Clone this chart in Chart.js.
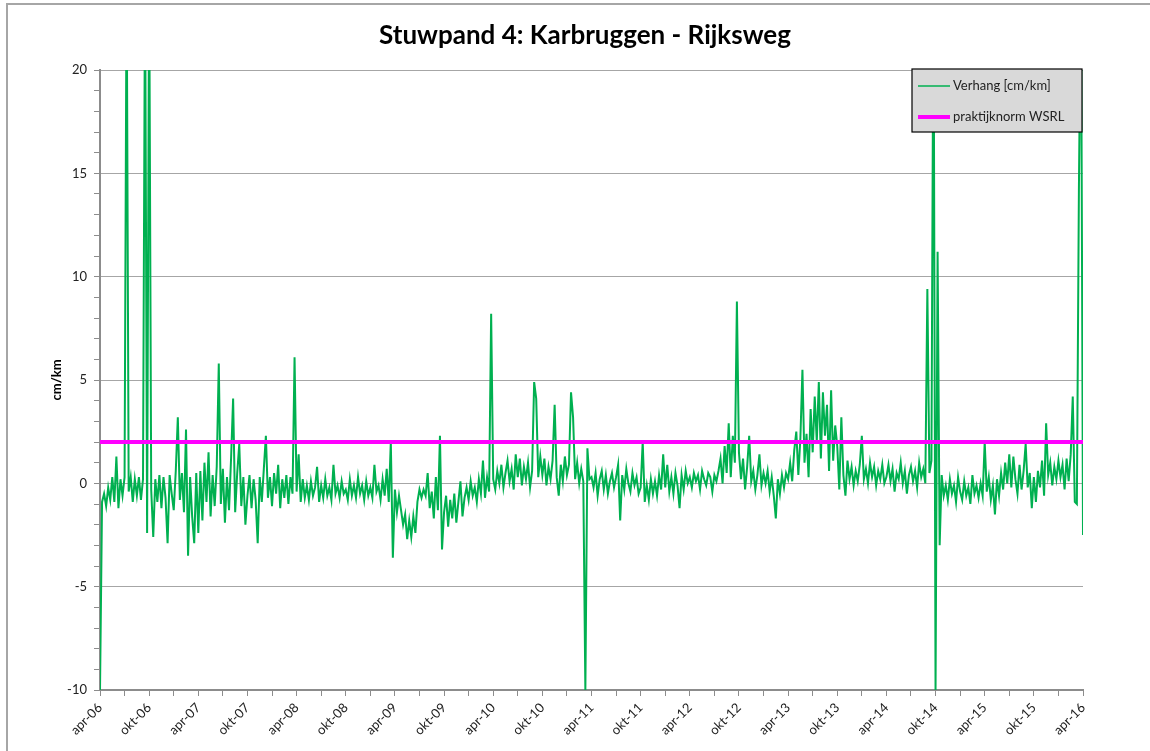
<!DOCTYPE html>
<html>
<head>
<meta charset="utf-8">
<title>Stuwpand 4: Karbruggen - Rijksweg</title>
<script src="https://cdn.jsdelivr.net/npm/chart.js@4.4.0/dist/chart.umd.min.js"></script>
<style>
  html, body { margin: 0; padding: 0; background: #fff; }
  canvas { display: block; }
</style>
</head>
<body>
<canvas id="verhang-chart" width="1150" height="751"></canvas>
<script>
const chartTitle = 'Stuwpand 4: Karbruggen - Rijksweg';
const yTitle = 'cm/km';
const seriesNames = ['Verhang [cm/km]', 'praktijknorm WSRL'];
const xLabels = ['apr-06', 'okt-06', 'apr-07', 'okt-07', 'apr-08', 'okt-08', 'apr-09',
  'okt-09', 'apr-10', 'okt-10', 'apr-11', 'okt-11', 'apr-12', 'okt-12', 'apr-13',
  'okt-13', 'apr-14', 'okt-14', 'apr-15', 'okt-15', 'apr-16'];
const normValue = 2;
const pointsPerMonth = 4;

// verhang readings, 4 per month, one array per half year
const verhangApr06 = [-10, -0.9, -0.5, -1.1, -0.2, -0.8, 0.3, -0.9, 1.3, -1.2, 0.2, -0.6, 0.3, 25, -0.4, 0.3, -0.9, 0.2, -0.6, 0.3, -0.8, 0.2, 25, -2.4];
const verhangOkt06 = [25, -0.3, -2.6, 0.2, -0.9, 0.4, -1.2, 0.3, -0.7, -2.9, 0.4, -0.5, -1.3, 0.6, 3.2, -0.8, 0.5, -1.4, 2.6, -3.5, 0.3, -1.6, -2.9, 0.5];
const verhangApr07 = [-2.4, 0.6, -1.8, 1.0, -0.9, 1.5, -1.6, 0.4, -1.1, 0.8, 5.8, -1.0, 0.7, -1.9, 0.3, -1.3, 1.2, 4.1, -1.4, 0.5, 1.9, -1.1, 0.3, -2.0];
const verhangOkt07 = [-0.6, 0.4, -1.2, 0.2, -0.8, -2.9, 0.3, -0.9, 0.7, 2.3, -0.7, 0.3, -1.1, 0.5, -0.5, 0.9, -1.2, 0.2, -0.7, 0.4, -1.0, 0.3, -0.5, 6.1];
const verhangApr08 = [-0.4, 1.4, -0.9, 0.2, -0.7, -0.1, -0.8, 0.1, -0.6, -0.2, 0.8, -0.9, -0.1, -0.7, 0.2, -0.6, -0.2, -0.8, 0.9, -0.5, -0.1, -0.7, 0.1, -0.5];
const verhangOkt08 = [-0.3, -0.8, 0.2, -0.6, -0.1, -0.7, 0.3, -0.5, -0.1, -0.8, 0.1, -0.6, -0.2, -0.7, 0.9, -0.4, -0.1, -0.8, 0.2, -0.6, 0.7, -0.9, 2.0, -3.6];
const verhangApr09 = [-0.3, -1.4, -0.6, -1.3, -2.0, -1.5, -2.7, -1.8, -2.6, -1.6, -2.4, -0.9, -0.3, -0.7, -0.3, -0.6, 0.5, -1.2, -0.4, -1.7, 0.3, -1.3, 2.3, -3.2];
const verhangOkt09 = [-1.4, -0.6, -2.1, -0.8, -1.7, -0.5, -1.9, -0.9, 0.1, -1.6, -0.7, -0.2, -0.8, 0.1, -0.6, -0.2, -0.9, 0.2, -0.5, 1.1, -0.7, 0.3, -0.4, 8.2];
const verhangApr10 = [0.2, -0.3, 0.6, 0.0, 0.9, -0.2, 0.5, 1.1, 0.1, 0.7, -0.3, 1.4, 0.3, 1.2, -0.1, 0.8, 0.2, 1.0, -0.2, 0.6, 4.9, 4.1, 0.3, 1.3];
const verhangOkt10 = [0.4, 1.2, -0.1, 0.8, 0.2, 1.1, 3.8, 0.3, -0.6, 0.9, 0.1, 1.3, 0.4, 0.9, 4.4, 3.2, 0.2, 1.0, 0.0, 0.7, 0.1, -10, 1.7, 0.2];
const verhangApr11 = [0.3, -0.2, 0.5, -0.6, 0.2, 0.6, -0.3, 0.4, -0.5, 0.1, 0.5, -0.2, 0.3, 0.9, -1.8, 0.4, -0.3, 0.7, 0.0, -0.4, 0.5, -0.1, 0.3, -0.5];
const verhangOkt11 = [-0.2, 2.0, -0.9, -0.1, -0.8, 0.2, -0.5, 0.1, -0.6, 0.4, -0.3, 1.4, -0.2, 0.9, -0.4, 0.3, -0.5, 0.5, -0.1, -1.2, 0.4, -0.3, 0.6, 0.0];
const verhangApr12 = [0.3, -0.2, 0.5, 0.1, 0.4, -0.3, 0.6, 0.2, -0.1, 0.5, 0.3, -0.4, 0.4, 0.1, 0.6, 1.2, 0.0, 1.8, 0.5, 2.9, 0.3, 2.3, 1.0, 8.8];
const verhangOkt12 = [1.5, 0.2, 1.2, -0.3, 0.8, 2.3, 0.1, 0.6, -0.3, 0.4, 1.4, -0.1, 0.5, 0.0, 0.6, -0.4, 0.3, -0.6, -1.7, 0.2, -0.5, 0.4, -0.2, 0.5];
const verhangApr13 = [0.2, 1.0, 0.1, 1.6, 2.5, 0.4, 2.2, 5.5, 1.0, 2.4, 0.3, 3.6, 1.5, 4.2, 2.0, 4.9, 1.2, 4.4, 2.3, 3.8, 0.6, 4.5, 1.1, 2.8];
const verhangOkt13 = [1.8, -0.3, 3.2, 0.4, -0.6, 1.1, 0.2, 0.8, -0.1, 0.6, 0.1, 0.9, 2.3, 0.2, 0.7, 0.0, 1.0, 0.3, 0.8, -0.1, 0.6, 0.2, 0.9, 0.0];
const verhangApr14 = [0.3, 0.9, 0.1, 0.7, -0.4, 0.5, 0.2, 1.0, 0.0, 0.6, -0.5, 0.4, 0.8, 0.1, 0.6, -0.2, 1.0, 0.3, 0.7, 0.0, 9.4, 0.5, 1.1, 25];
const verhangOkt14 = [-10, 11.2, -3.0, 0.4, -0.6, -0.1, -0.8, 0.2, -0.5, -0.1, -0.9, 0.3, -0.4, -0.8, 0.1, -0.6, -0.2, -1.0, 0.4, -0.5, -0.1, -0.7, 0.0, -0.6];
const verhangApr15 = [2.0, -0.4, 0.3, -0.8, -0.1, -1.5, 0.2, -0.6, 0.5, -0.3, 1.0, 0.0, 1.4, -0.2, 1.3, 0.2, -0.5, 0.9, -0.3, 0.6, 1.9, -0.2, 0.5, -1.2];
const verhangOkt15 = [0.3, -0.9, 0.6, -0.2, 1.1, -0.6, 2.9, 0.4, 1.0, -0.1, 0.8, 0.2, 1.1, 0.3, 0.9, -0.3, 1.2, 0.1, 1.4, 4.2, -0.9, -1.0, 14.2, 25];
const verhangApr16 = [-2.5];

const verhang = [].concat(verhangApr06, verhangOkt06, verhangApr07, verhangOkt07,
  verhangApr08, verhangOkt08, verhangApr09, verhangOkt09, verhangApr10, verhangOkt10,
  verhangApr11, verhangOkt11, verhangApr12, verhangOkt12, verhangApr13, verhangOkt13,
  verhangApr14, verhangOkt14, verhangApr15, verhangOkt15, verhangApr16);

const lastMonth = (xLabels.length - 1) * 6;
const font = 'Lato';

// title, outer frame and the boxed legend, Excel style
const excelBits = {
  id: 'excelBits',
  beforeDraw(chart) {
    const ctx = chart.ctx;
    ctx.save();
    ctx.fillStyle = '#fff';
    ctx.fillRect(0, 0, chart.width, chart.height);
    ctx.strokeStyle = '#a6a6a6';
    ctx.lineWidth = 2;
    ctx.beginPath();
    ctx.moveTo(7, chart.height);
    ctx.lineTo(7, 4);
    ctx.lineTo(chart.width, 4);
    ctx.stroke();
    ctx.restore();
  },
  afterDraw(chart) {
    const ctx = chart.ctx;
    const area = chart.chartArea;
    ctx.save();
    ctx.fillStyle = '#000';
    ctx.font = 'bold 26px ' + font;
    ctx.textAlign = 'center';
    ctx.textBaseline = 'middle';
    ctx.fillText(chartTitle, 585, 36);

    const bx = area.right - 171, by = area.top - 1, bw = 170, bh = 63;
    ctx.fillStyle = '#d9d9d9';
    ctx.fillRect(bx, by, bw, bh);
    ctx.strokeStyle = '#000';
    ctx.lineWidth = 1.2;
    ctx.strokeRect(bx, by, bw, bh);

    ctx.font = '13px ' + font;
    ctx.textAlign = 'left';
    chart.data.datasets.forEach((ds, i) => {
      const y = by + 17 + i * 31;
      ctx.strokeStyle = ds.borderColor;
      ctx.lineWidth = i === 0 ? 1.5 : ds.borderWidth;
      ctx.beginPath();
      ctx.moveTo(bx + 6, y);
      ctx.lineTo(bx + 38, y);
      ctx.stroke();
      ctx.fillStyle = '#222';
      ctx.fillText(ds.label, bx + 41, y);
    });
    ctx.restore();
  }
};

new Chart(document.getElementById('verhang-chart'), {
  type: 'line',
  data: {
    datasets: [
      {
        label: seriesNames[0],
        data: verhang.map((v, i) => ({ x: i / pointsPerMonth, y: v })),
        borderColor: '#00b050',
        borderWidth: 2,
        pointRadius: 0,
        tension: 0,
        order: 2
      },
      {
        label: seriesNames[1],
        data: [{ x: 0, y: normValue }, { x: lastMonth, y: normValue }],
        borderColor: '#ff00ff',
        borderWidth: 4,
        pointRadius: 0,
        order: 1
      }
    ]
  },
  options: {
    responsive: false,
    animation: false,
    devicePixelRatio: 1,
    layout: { padding: { top: 70, right: 67, bottom: 0, left: 0 } },
    plugins: {
      legend: { display: false },
      title: { display: false },
      tooltip: { enabled: false }
    },
    scales: {
      x: {
        type: 'linear',
        min: 0,
        max: lastMonth,
        ticks: {
          stepSize: 3,
          autoSkip: false,
          minRotation: 45,
          maxRotation: 45,
          padding: 4,
          color: '#222',
          font: { family: font, size: 13 },
          callback: v => (v % 6 === 0 ? xLabels[v / 6] : '')
        },
        grid: { drawOnChartArea: false, tickLength: 6, tickColor: '#8c8c8c' },
        border: { color: '#8c8c8c', width: 2 },
        afterFit: s => { s.height = 61; }
      },
      y: {
        min: -10,
        max: 20,
        ticks: {
          stepSize: 1,
          autoSkip: false,
          padding: 7,
          color: '#222',
          font: { family: font, size: 13 },
          callback: v => (v % 5 === 0 ? v : '')
        },
        grid: {
          color: c => (c.tick && c.tick.value % 5 === 0 ? '#a6a6a6' : 'rgba(0,0,0,0)'),
          tickColor: '#8c8c8c',
          tickLength: 6
        },
        border: { color: '#8c8c8c', width: 2 },
        title: {
          display: true,
          text: yTitle,
          color: '#000',
          font: { family: font, size: 13, weight: 'bold' },
          padding: { top: 49, bottom: 0 }
        },
        afterFit: s => { s.width = 100; }
      }
    }
  },
  plugins: [excelBits]
});
</script>
</body>
</html>
